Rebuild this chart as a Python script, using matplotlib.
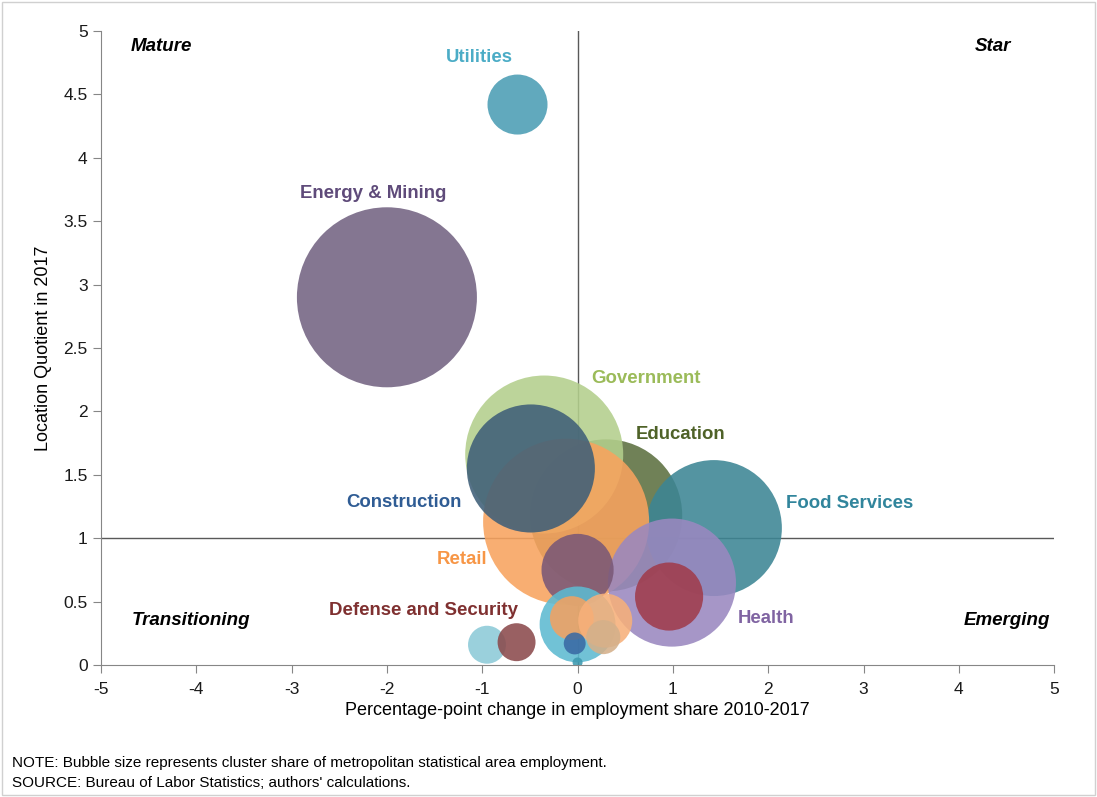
import matplotlib
matplotlib.use('Agg')
import matplotlib.pyplot as plt
from matplotlib.patches import Rectangle

plt.rcParams['font.family'] = ['Liberation Sans', 'DejaVu Sans']
plt.rcParams['axes.unicode_minus'] = False

# bubbles, drawn bottom to top
change = [-2.0, -0.63, 0.30, -0.35, 1.43, -0.12, -0.49, 0.99, 0.0, 0.96,
          0.0, -0.95, -0.64, -0.06, 0.29, 0.27, -0.03, 0.0]
lq = [2.90, 4.42, 1.18, 1.66, 1.08, 1.13, 1.55, 0.65, 0.75, 0.54,
      0.32, 0.16, 0.18, 0.37, 0.35, 0.22, 0.17, 0.02]
share = [81, 9.0, 57.8, 62.4, 46.2, 68.9, 41, 41, 13, 11.6,
         14.4, 3.6, 3.6, 4.8, 7.3, 2.9, 1.2, 0.25]
colors = ['#736382', '#4b9db4', '#5c7040', '#b3cf8c', '#3c8594', '#f8a35e',
          '#3f5f78', '#9a88c0', '#7a5877', '#a03c4c',
          '#5dbad1', '#8ccad8', '#8b4a4c', '#f1a262', '#f7b07a', '#d4b08a',
          '#3a6aa4', '#3f9ab0']

labels = ['Utilities', 'Energy & Mining', 'Government', 'Education', 'Construction',
          'Food Services', 'Retail', 'Defense and Security', 'Health']
label_x = [-1.03, -2.14, 0.72, 1.08, -1.82, 2.85, -1.21, -1.62, 1.98]
label_y = [4.79, 3.72, 2.26, 1.82, 1.28, 1.27, 0.83, 0.43, 0.37]
label_colors = ['#4bacc6', '#5f4b7a', '#9bbb59', '#4f6228', '#2f5c94',
                '#31859c', '#f79646', '#7f3030', '#8064a2']

quadrants = ['Mature', 'Star', 'Transitioning', 'Emerging']
quad_x = [-4.37, 4.36, -4.06, 4.5]
quad_y = [4.88, 4.88, 0.35, 0.35]

fig = plt.figure(figsize=(10.97, 7.97), dpi=100)
ax = fig.add_axes([0.092, 0.1656, 0.869, 0.7955])

ax.scatter(change, lq, s=[v * 207.4 for v in share], c=colors, alpha=0.88,
           edgecolors='none', zorder=3)

ax.axvline(0, color='#595959', lw=1, zorder=2)
ax.axhline(1, color='#595959', lw=1, zorder=2)

for t, x, y, c in zip(labels, label_x, label_y, label_colors):
    ax.text(x, y, t, color=c, fontsize=13.4, fontweight='bold', ha='center', va='center', zorder=5)
for t, x, y in zip(quadrants, quad_x, quad_y):
    ax.text(x, y, t, color='black', fontsize=13.5, fontweight='bold', style='italic',
            ha='center', va='center', zorder=5)

ax.set_xlim(-5, 5)
ax.set_ylim(0, 5)
ax.set_xticks(range(-5, 6))
ax.set_yticks([0, 0.5, 1, 1.5, 2, 2.5, 3, 3.5, 4, 4.5, 5])
ax.set_yticklabels(['0', '0.5', '1', '1.5', '2', '2.5', '3', '3.5', '4', '4.5', '5'])
ax.tick_params(labelsize=12.5, color='#868686', length=6, labelcolor='#1a1a1a')
ax.tick_params(axis='x', pad=6)
for s in ['top', 'right']:
    ax.spines[s].set_visible(False)
for s in ['left', 'bottom']:
    ax.spines[s].set_color('#868686')
ax.set_xlabel('Percentage-point change in employment share 2010-2017', fontsize=13, labelpad=4)
ax.set_ylabel('Location Quotient in 2017', fontsize=13, labelpad=8)

fig.text(0.011, 0.038, 'NOTE: Bubble size represents cluster share of metropolitan statistical area employment.',
         fontsize=11)
fig.text(0.011, 0.0125, "SOURCE: Bureau of Labor Statistics; authors' calculations.", fontsize=11)

fig.patches.append(Rectangle((0.002, 0.003), 0.996, 0.994, transform=fig.transFigure,
                             fill=False, edgecolor='#d0d0d0', lw=1))

fig.savefig('out.png', dpi=100)
